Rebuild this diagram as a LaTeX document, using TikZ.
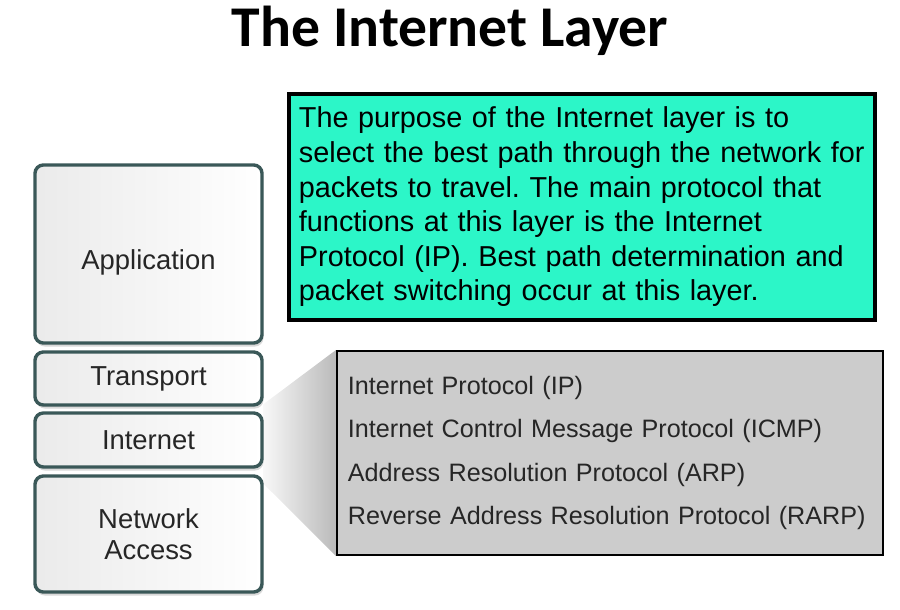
\documentclass[tikz,border=0pt]{standalone}
\usepackage{fontspec}
\setmainfont{Liberation Sans}
\newfontfamily\titlefont{Carlito}
\usepackage{tikz}
\usetikzlibrary{positioning,shadows,calc,backgrounds}
\definecolor{layeredge}{RGB}{58,88,88}
\definecolor{aqua}{RGB}{44,246,200}
\frenchspacing
\tikzset{
    layer/.style={
        draw=layeredge,
        line width=2.4pt,
        rounded corners=6pt,
        align=center,
        minimum width=5.675cm,
        left color=gray!16,
        right color=white,
        text=black!85,
        font=\fontsize{19.5}{22}\selectfont,
        drop shadow={shadow xshift=1pt, shadow yshift=-2.5pt, fill=gray!50, opacity=0.6}
    },
    purposebox/.style={
        draw=black,
        line width=2.8pt,
        fill=aqua,
        align=left,
        minimum width=14.65cm,
        minimum height=5.65cm,
        text width=14.15cm,
        inner xsep=0.25cm,
        font=\fontsize{20.5}{24.6}\selectfont
    },
    protobox/.style={
        draw=black,
        line width=1.4pt,
        fill=black!20,
        align=left,
        minimum width=13.65cm,
        minimum height=5.1cm,
        text width=13.1cm,
        inner xsep=0.275cm,
        text=black!85,
        font=\fontsize{17.9}{31}\selectfont
    },
    wedge/.style={left color=black!3, right color=black!27}
}

\begin{document}
\begin{tikzpicture}[x=0.025cm, y=0.025cm]
        \useasboundingbox (0,0) rectangle (900,610);

        \node[font=\titlefont\bfseries\fontsize{41}{49}\selectfont, anchor=base] (title) at (450,563) {The Internet Layer};

        \node[layer, minimum height=4.45cm] (app) at (148.5,356) {\raisebox{-6pt}[\height][\depth]{Application}};
        \node[layer, minimum height=1.325cm] (trans) at (148.5,231.5) {Transport};
        \node[layer, minimum height=1.35cm] (inet) at (148.5,170) {Internet};
        \node[layer, minimum height=2.9cm] (netacc) at (148.5,76) {Network\\Access};

        \node[purposebox] (purpose) at (582,403) {The purpose of the Internet layer is to\\
            select the best path through the network for\\
            packets to travel. The main protocol that\\
            functions at this layer is the Internet\\
            Protocol (IP). Best path determination and\\
            packet switching occur at this layer.};

        \node[protobox] (protocols) at (610,157) {Internet Protocol (IP)\\
            Internet Control Message Protocol (ICMP)\\
            Address Resolution Protocol (ARP)\\
            Reverse Address Resolution Protocol (RARP)};

        \begin{scope}[on background layer]
            \shade[wedge] ($(inet.east)+(0,36)$) -- (protocols.north west)
                -- (protocols.south west) -- ($(inet.east)+(0,-44)$) -- cycle;
        \end{scope}
    \end{tikzpicture}
\end{document}
